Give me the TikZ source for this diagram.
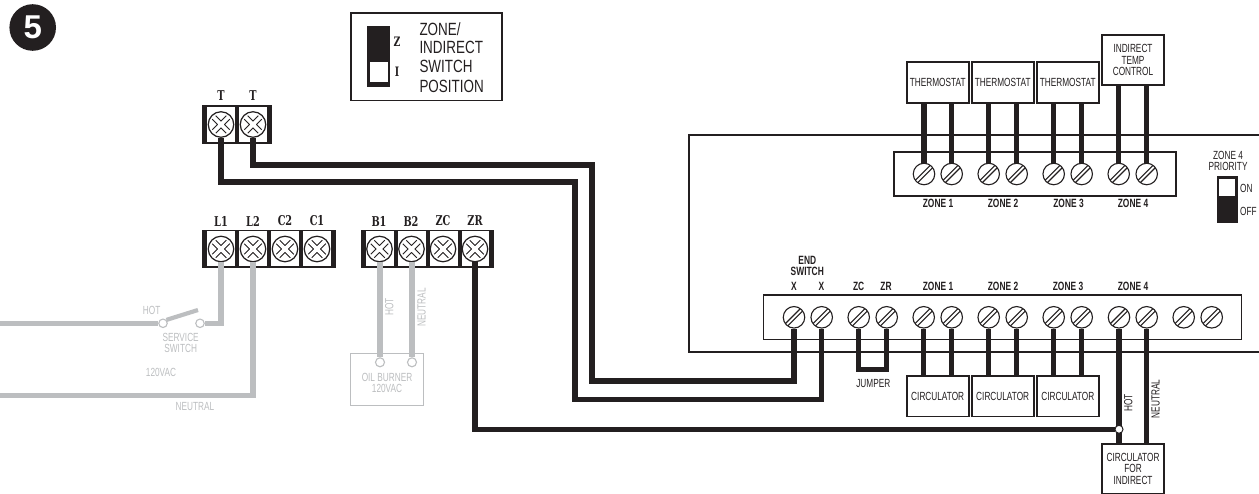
\documentclass[tikz,border=0pt]{standalone}
\usepackage{fontspec}
\setmainfont{Liberation Sans}
\newfontfamily\cond[FakeStretch=0.7]{Liberation Sans}
\newfontfamily\condb[FakeStretch=0.76]{Liberation Sans}
\newfontfamily\slab[FakeStretch=0.72]{DejaVu Serif}
\definecolor{ink}{HTML}{231F20}
\definecolor{ghost}{HTML}{BCBEC0}
\tikzset{
  wire/.style={draw=ink,line width=5.2pt,line join=miter},
  graywire/.style={draw=ghost,line width=5.2pt,line join=miter},
  box/.style={draw=ink,line width=1.7pt,fill=white,inner sep=0pt,align=center,font=\cond\fontsize{11.8}{11.4}\selectfont,text=ink},
  graybox/.style={draw=ghost,line width=1.1pt,fill=white,inner sep=0pt,align=center,font=\cond\fontsize{11.8}{11.4}\selectfont,text=ghost},
  strip/.style={draw=ink,line width=1.1pt,fill=white,inner sep=0pt},
  cross/.style={circle,draw=ink,line width=1.2pt,fill=white,minimum size=25.5pt,inner sep=0pt,
    path picture={\begin{scope}[shift={(path picture bounding box.center)}]
      \draw[ink,line width=6pt] (-7,-7)--(7,7) (-7,7)--(7,-7);
      \draw[white,line width=3.8pt] (-9.5,-9.5)--(9.5,9.5) (-9.5,9.5)--(9.5,-9.5);
      \end{scope}}},
  flat/.style={circle,draw=ink,line width=1.1pt,fill=white,minimum size=21.5pt,inner sep=0pt,
    path picture={\begin{scope}[shift={(path picture bounding box.center)}]
      \draw[ink,line width=1.1pt] (-8.5,6.2)--(6.2,-8.5) (-6.2,8.5)--(8.5,-6.2);
      \end{scope}}},
  dot/.style={circle,draw=ink,line width=1pt,fill=white,minimum size=8pt,inner sep=0pt},
  graydot/.style={circle,draw=ghost,line width=1.1pt,fill=white,minimum size=8.5pt,inner sep=0pt},
  termlabel/.style={inner sep=0pt,font=\slab\bfseries\fontsize{13.5}{14}\selectfont,text=ink},
  zonelabel/.style={inner sep=0pt,align=center,font=\cond\bfseries\fontsize{12}{11.6}\selectfont,text=ink},
  small/.style={inner sep=0pt,align=center,font=\cond\fontsize{11.8}{11.4}\selectfont,text=ink},
  graytext/.style={inner sep=0pt,align=center,font=\cond\fontsize{11.8}{11.2}\selectfont,text=ghost},
  legendtext/.style={inner sep=0pt,font=\condb\fontsize{17.7}{19}\selectfont,text=ink},
}
\begin{document}
\begin{tikzpicture}[x=1pt,y=-1pt]
\useasboundingbox (0,0) rectangle (1259,494);
% number badge
\node[circle,fill=ink,minimum size=46.6pt,inner sep=0pt,text=white,font=\bfseries\fontsize{33}{33}\selectfont] (badge) at (32.7,27.5) {5};
% legend
\node[draw=ink,line width=1.7pt,minimum width=151pt,minimum height=87.5pt,inner sep=0pt] (legend) at (426.5,56.8) {};
\fill[ink] (367,25.7) rectangle (390,87.3);
\fill[white] (370,62.3) rectangle (387.7,81.7);
\node[termlabel,font=\slab\bfseries\fontsize{13}{13}\selectfont] (lz) at (397,41.7) {Z};
\node[termlabel,font=\slab\bfseries\fontsize{13}{13}\selectfont] (li) at (397,72) {I};
\node[legendtext,anchor=west] (l1) at (419.3,29.3) {ZONE/};
\node[legendtext,anchor=west] (l2) at (419.3,47.3) {INDIRECT};
\node[legendtext,anchor=west] (l3) at (419.3,66.7) {SWITCH};
\node[legendtext,anchor=west] (l4) at (419.3,86) {POSITION};
% panel outline
\draw[ink,line width=2pt] (1259,135) -- (688.5,135) -- (688.5,351.7) -- (1259,351.7);
% strips
\node[strip,minimum width=282pt,minimum height=44pt] (upstrip) at (1035,174) {};
\node[strip,minimum width=478.4pt,minimum height=44.3pt] (lowstrip) at (1002.5,317.2) {};
% T block
\draw[ink,line width=1.1pt,fill=white] (203,106) rectangle (271,143);
\foreach \x in {203,235,267}{\fill[ink] (\x,105.5) rectangle (\x+4,143.5);}
\node[cross] (t1) at (221,124.5) {};
\node[cross] (t2) at (253,124.5) {};
\node[termlabel] (t1l) at (221,96) {T};
\node[termlabel] (t2l) at (253,96) {T};
% L block
\draw[ink,line width=1.1pt,fill=white] (203,230.5) rectangle (335,267);
\foreach \x in {203,235,267,299,331}{\fill[ink] (\x,230) rectangle (\x+4,267.5);}
\node[cross] (L1) at (221,249) {};
\node[cross] (L2) at (253,249) {};
\node[cross] (C2) at (285,249) {};
\node[cross] (C1) at (317,249) {};
\node[termlabel] (L1l) at (221,221) {L1};
\node[termlabel] (L2l) at (253,221) {L2};
\node[termlabel] (C2l) at (285,221) {C2};
\node[termlabel] (C1l) at (317,221) {C1};
% B block
\draw[ink,line width=1.1pt,fill=white] (362,230.5) rectangle (493,267);
\foreach \x in {362,394,426,458,489}{\fill[ink] (\x,230) rectangle (\x+4,267.5);}
\node[cross] (B1) at (379.5,249) {};
\node[cross] (B2) at (411.5,249) {};
\node[cross] (ZC) at (443,249) {};
\node[cross] (ZR) at (475,249) {};
\node[termlabel] (B1l) at (379,221) {B1};
\node[termlabel] (B2l) at (411,221) {B2};
\node[termlabel] (ZCl) at (443,221) {ZC};
\node[termlabel] (ZRl) at (475,221) {ZR};
% gray part
\coordinate (leftA) at (0,323.3);
\coordinate (leftB) at (0,395.3);
\node[graydot] (sw1) at (163,323.3) {};
\node[graydot] (sw2) at (200,323.3) {};
\coordinate (blade) at (198,310);
\draw[graywire] (leftA) -- (sw1.west);
\draw[graywire,line width=4.2pt] (sw1.north east) -- (blade);
\draw[graywire] (L1.south) |- (sw2.east);
\draw[graywire] (L2.south) |- (leftB);
\node[graytext] (hot1) at (151.7,310) {HOT};
\node[graytext] (ss) at (180.7,343.2) {SERVICE\\SWITCH};
\node[graytext] (vac) at (161,372.3) {120VAC};
\node[graytext] (neu1) at (195,406.7) {NEUTRAL};
\node[graybox,minimum width=73.3pt,minimum height=52.4pt] (oil) at (386.7,379.5) {};
\node[graydot,minimum size=9pt] (ob1) at (380,362.3) {};
\node[graydot,minimum size=9pt] (ob2) at (412,362.3) {};
\draw[graywire] (ob1.north |- B1.south) -- (ob1.north);
\draw[graywire] (ob2.north |- B2.south) -- (ob2.north);
\node[graytext] (oilt) at (387,382.8) {OIL BURNER\\120VAC};
\node[graytext,rotate=90] (hot2) at (389.3,306.7) {HOT};
\node[graytext,rotate=90] (neu2) at (421.7,307.3) {NEUTRAL};
% upper terminals
\foreach \n/\x in {a/924,b/951.7,c/988.7,d/1016.7,e/1053.7,f/1081.7,g/1118.7,h/1146.7}{\node[flat] (u\n) at (\x,174) {};}
\node[box,minimum width=62pt,minimum height=41pt] (th1) at (937.7,82.5) {THERMOSTAT};
\node[box,minimum width=62pt,minimum height=41pt] (th2) at (1002.7,82.5) {THERMOSTAT};
\node[box,minimum width=62pt,minimum height=41pt] (th3) at (1067.7,82.5) {THERMOSTAT};
\node[box,minimum width=62pt,minimum height=50pt] (itc) at (1133,60) {INDIRECT\\TEMP\\CONTROL};
\foreach \n/\t in {a/th1,b/th1,c/th2,d/th2,e/th3,f/th3,g/itc,h/itc}{\draw[wire] (u\n.north) -- (u\n.north |- \t.south);}
\node[zonelabel] (uz1) at (938,203) {ZONE 1};
\node[zonelabel] (uz2) at (1003,203) {ZONE 2};
\node[zonelabel] (uz3) at (1068.5,203) {ZONE 3};
\node[zonelabel] (uz4) at (1133,203) {ZONE 4};
% priority switch
\node[small] (prio) at (1228,161) {ZONE 4\\PRIORITY};
\fill[ink] (1217,176) rectangle (1238,223);
\fill[white] (1219,179) rectangle (1235,196);
\node[small,anchor=west] (on) at (1240,188) {ON};
\node[small,anchor=west] (off) at (1240,211) {OFF};
% lower terminals
\foreach \n/\x in {Xa/794,Xb/821.7,zc/858.7,zr/886.7,a/923.7,b/951.7,c/988.7,d/1016.7,e/1053.7,f/1081.7,g/1119,h/1146.7,i/1183.7,j/1211.7}{\node[flat] (w\n) at (\x,317.3) {};}
\node[zonelabel] (end) at (807.3,266) {END\\SWITCH};
\node[zonelabel] (xa) at (794,286) {X};
\node[zonelabel] (xb) at (821.5,286) {X};
\node[zonelabel] (zcl) at (858.7,286) {ZC};
\node[zonelabel] (zrl) at (886,286) {ZR};
\node[zonelabel] (lz1) at (938,286) {ZONE 1};
\node[zonelabel] (lz2) at (1003,286) {ZONE 2};
\node[zonelabel] (lz3) at (1068,286) {ZONE 3};
\node[zonelabel] (lz4) at (1133,286) {ZONE 4};
% circulators
\node[box,minimum width=62pt,minimum height=40.5pt] (c1) at (937.7,396.2) {CIRCULATOR};
\node[box,minimum width=62pt,minimum height=40.5pt] (c2) at (1002.7,396.2) {CIRCULATOR};
\node[box,minimum width=62pt,minimum height=40.5pt] (c3) at (1067.8,396.2) {CIRCULATOR};
\node[box,minimum width=62pt,minimum height=49.7pt] (ci) at (1133,468.8) {CIRCULATOR\\FOR\\INDIRECT};
\foreach \n/\t in {a/c1,b/c1,c/c2,d/c2,e/c3,f/c3,g/ci,h/ci}{\draw[wire] (w\n.south) -- (w\n.south |- \t.north);}
% jumper
\draw[wire] (wzc.south) |- (872,369.3) -| (wzr.south);
\node[small] (jump) at (873.3,383.3) {JUMPER};
\node[small,rotate=90] (hot3) at (1128.3,403) {HOT};
\node[small,rotate=90] (neu3) at (1155.7,399) {NEUTRAL};
% black wires
\draw[wire] (t2.south) |- (592,165) |- (794,381) -- (wXa.south);
\draw[wire] (t1.south) |- (575,182) |- (821.7,399.5) -- (wXb.south);
\node[dot] (jn) at (1119,429.3) {};
\draw[wire] (ZR.south) |- (jn.west);
\end{tikzpicture}
\end{document}
